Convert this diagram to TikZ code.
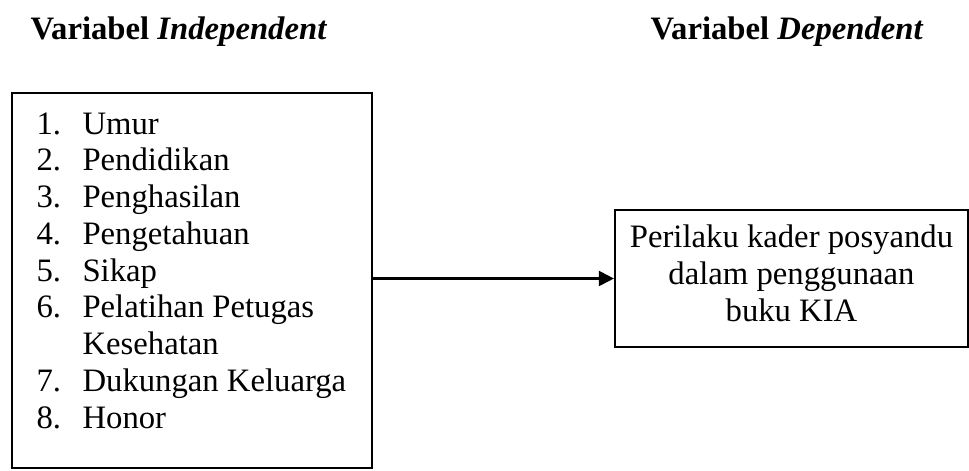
\documentclass[tikz,border=0pt]{standalone}
\usepackage{fontspec}
\setmainfont{Liberation Serif}
\usetikzlibrary{arrows.meta}

\begin{document}
\begin{tikzpicture}
[x=0.367pt, y=-0.367pt,
  boxDecorate/.style={draw,line width=0.75pt,inner sep=0pt},%
  itemDecorate/.style={anchor=base west,inner sep=0pt},%
  arrowDecorate/.style={-{Triangle[length=5.5pt,width=5.5pt]},line width=0.75pt}]
\fontsize{12}{13.5}\selectfont
\useasboundingbox (0,0) rectangle (969,470);
%% headings
\node (headIndep) at (30,39) [itemDecorate] {\textbf{Variabel \textit{Independent}}};
\node (headDep) at (650,39) [itemDecorate] {\textbf{Variabel \textit{Dependent}}};
%% boxes
\node (indep) at (192,280.5) [boxDecorate,minimum width=132.1pt,minimum height=137.6pt] {};
\node (dep) at (791.5,278.5) [boxDecorate,minimum width=129.6pt,minimum height=50.3pt,align=center]
  {Perilaku kader posyandu\\ dalam penggunaan\\ buku KIA\strut};
%% list of variables
\foreach \num/\item/\row in {1/Umur/0, 2/Pendidikan/1, 3/Penghasilan/2, 4/Pengetahuan/3,
  5/Sikap/4, 6/Pelatihan Petugas/5, 7/Dukungan Keluarga/7, 8/Honor/8}
{
  \node (num\num) at (36,134+36.75*\row) [itemDecorate] {\num.};
  \node (item\num) at (82,134+36.75*\row) [itemDecorate] {\item};
}
\node (item6b) at (82,134+36.75*6) [itemDecorate] {Kesehatan};
%% connector
\draw[arrowDecorate] (indep.east |- dep.west) -- (dep.west);
\end{tikzpicture}
\end{document}
